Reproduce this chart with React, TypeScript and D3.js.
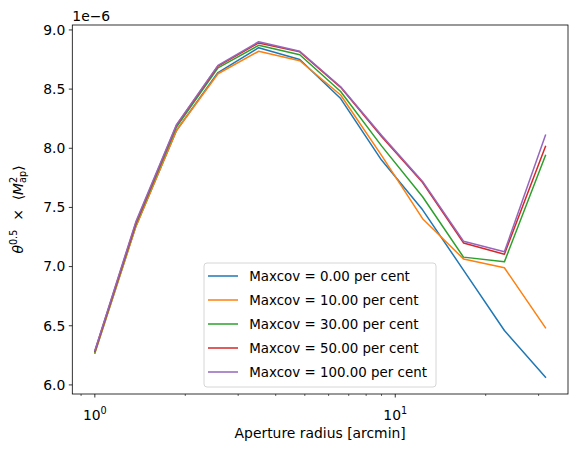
import React from "react";
import * as d3 from "d3";

// Aperture radii [arcmin]
const radii = [1.0, 1.37, 1.87, 2.57, 3.51, 4.81, 6.58, 9.0, 12.33, 16.87, 23.08, 31.62];

// theta^0.5 x <M_ap^2>, in units of 1e-6
const maxcov0 = [6.27, 7.34, 8.15, 8.64, 8.85, 8.75, 8.42, 7.9, 7.48, 6.97, 6.46, 6.065];
const maxcov10 = [6.27, 7.34, 8.15, 8.63, 8.82, 8.74, 8.45, 7.94, 7.405, 7.065, 6.99, 6.483];
const maxcov30 = [6.28, 7.36, 8.18, 8.68, 8.87, 8.79, 8.48, 8.02, 7.59, 7.08, 7.04, 7.94];
const maxcov50 = [6.285, 7.37, 8.195, 8.695, 8.89, 8.815, 8.515, 8.1, 7.71, 7.2, 7.105, 8.015];
const maxcov100 = [6.29, 7.38, 8.2, 8.7, 8.9, 8.82, 8.52, 8.11, 7.72, 7.215, 7.125, 8.11];

const seriesLabels = ["0.00", "10.00", "30.00", "50.00", "100.00"];
const seriesValues = [maxcov0, maxcov10, maxcov30, maxcov50, maxcov100];
const colors = ["#1f77b4", "#ff7f0e", "#2ca02c", "#d62728", "#9467bd"];

const yTicks = [6.0, 6.5, 7.0, 7.5, 8.0, 8.5, 9.0];
const xMajorTicks = [1, 10];
const xMinorTicks = [0.9, 2, 3, 4, 5, 6, 7, 8, 9, 20, 30];

const W = 577;
const H = 452;
const plot = { left: 72.3, right: 568, top: 25, bottom: 394 };
const FONT = "DejaVu Sans, sans-serif";
const FS = 13.9;
const SFS = 9.7;
const LEGEND_FS = 13.4;

export default function App() {
  // axis limits with 5% padding around the data
  const lx = d3.extent(radii.map((r) => Math.log10(r))) as [number, number];
  const px = (lx[1] - lx[0]) * 0.05;
  const x = d3
    .scaleLog()
    .domain([Math.pow(10, lx[0] - px), Math.pow(10, lx[1] + px)])
    .range([plot.left, plot.right]);

  const all = seriesValues.flat();
  const ly = d3.extent(all) as [number, number];
  const py = (ly[1] - ly[0]) * 0.05;
  const y = d3
    .scaleLinear()
    .domain([ly[0] - py, ly[1] + py])
    .range([plot.bottom, plot.top]);

  const line = d3
    .line<number>()
    .x((_, i) => x(radii[i]))
    .y((d) => y(d));

  const legend = { x: 204, y: 263, w: 232, h: 124, row: 24 };

  return (
    <svg
      width={W}
      height={H}
      style={{ position: "absolute", left: 0, top: 0, background: "#fff" }}
      fontFamily={FONT}
    >
      <rect x={0} y={0} width={W} height={H} fill="#fff" />
      {/* series */}
      <g fill="none" strokeWidth={1.5} strokeLinejoin="round" strokeLinecap="square">
        {seriesValues.map((vals, k) => (
          <path key={k} d={line(vals) ?? ""} stroke={colors[k]} />
        ))}
      </g>

      {/* frame */}
      <rect
        x={plot.left}
        y={plot.top}
        width={plot.right - plot.left}
        height={plot.bottom - plot.top}
        fill="none"
        stroke="#000"
        strokeWidth={0.8}
      />

      {/* ticks */}
      <g stroke="#000" strokeWidth={0.8}>
        {xMajorTicks.map((t) => (
          <line key={t} x1={x(t)} x2={x(t)} y1={plot.bottom} y2={plot.bottom + 3.5} />
        ))}
        {xMinorTicks.map((t) => (
          <line key={t} x1={x(t)} x2={x(t)} y1={plot.bottom} y2={plot.bottom + 2} strokeWidth={0.6} />
        ))}
        {yTicks.map((t) => (
          <line key={t} x1={plot.left - 3.5} x2={plot.left} y1={y(t)} y2={y(t)} />
        ))}
      </g>

      {xMajorTicks.map((t) => (
        <text key={t} x={x(t)} y={420} fontSize={FS} textAnchor="middle" fill="#000">
          10
          <tspan fontSize={SFS} dy={-6}>
            {Math.round(Math.log10(t))}
          </tspan>
        </text>
      ))}

      {yTicks.map((t) => (
        <text
          key={t}
          x={plot.left - 7}
          y={y(t)}
          dy="0.35em"
          fontSize={FS}
          textAnchor="end"
          fill="#000"
        >
          {t.toFixed(1)}
        </text>
      ))}

      {/* offset text */}
      <text x={plot.left} y={20.5} fontSize={FS} fill="#000">
        1e−6
      </text>

      {/* axis labels */}
      <text x={(plot.left + plot.right) / 2} y={437.5} fontSize={FS} textAnchor="middle" fill="#000">
        Aperture radius [arcmin]
      </text>
      <text
        transform={`translate(22.5, ${(plot.top + plot.bottom) / 2}) rotate(-90)`}
        fontSize={FS}
        textAnchor="middle"
        fill="#000"
      >
        <tspan fontStyle="italic">θ</tspan>
        <tspan fontSize={SFS} dy={-5.5}>
          0.5
        </tspan>
        <tspan dy={5.5}>{"\u00a0\u00a0×\u00a0\u00a0⟨"}</tspan>
        <tspan fontStyle="italic">M</tspan>
        <tspan fontSize={SFS} dy={-6}>
          2
        </tspan>
        <tspan fontSize={SFS} dx={-6.2} dy={9.5}>
          ap
        </tspan>
        <tspan dy={-3.5}>⟩</tspan>
      </text>

      {/* legend */}
      <rect
        x={legend.x}
        y={legend.y}
        width={legend.w}
        height={legend.h}
        rx={3}
        fill="#fff"
        fillOpacity={0.8}
        stroke="#cccccc"
        strokeWidth={0.8}
      />
      {seriesLabels.map((lab, k) => {
        const cy = 276 + k * legend.row;
        return (
          <g key={lab}>
            <line x1={208} x2={238} y1={cy} y2={cy} stroke={colors[k]} strokeWidth={1.5} />
            <text x={249.3} y={cy + 5} fontSize={LEGEND_FS} fill="#000">
              {`Maxcov = ${lab} per cent`}
            </text>
          </g>
        );
      })}
    </svg>
  );
}
